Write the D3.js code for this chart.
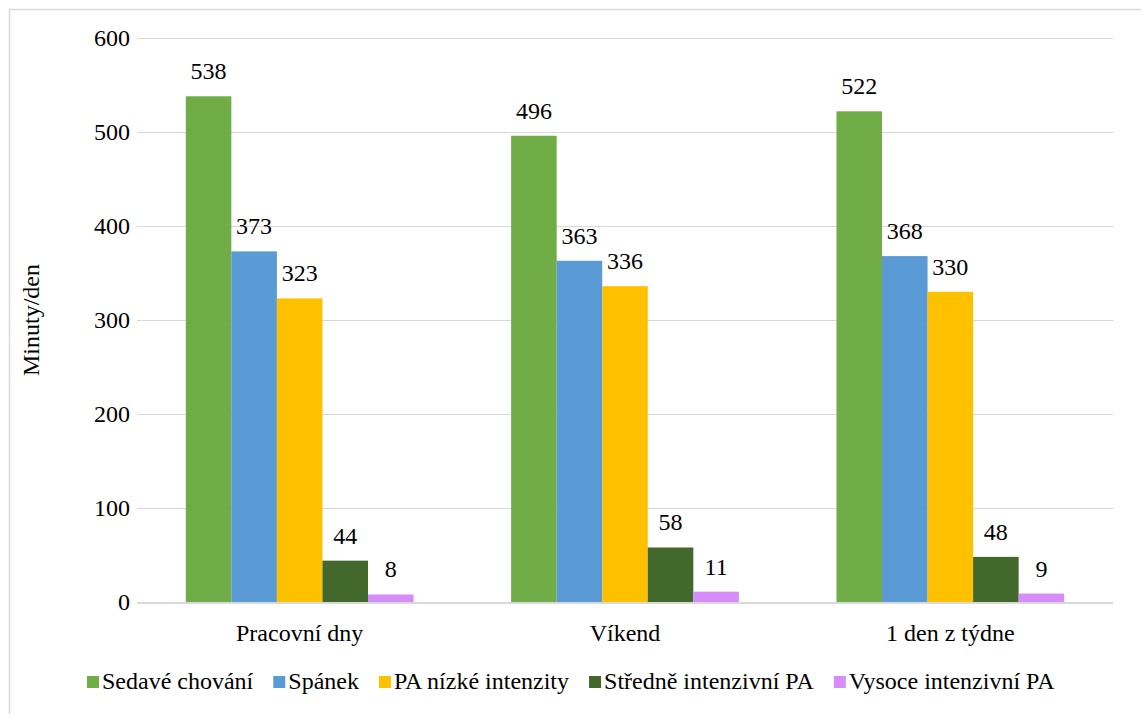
<!DOCTYPE html>
<html>
<head>
<meta charset="utf-8">
<script src="https://cdn.jsdelivr.net/npm/d3@7"></script>
<style>
  html, body { margin: 0; padding: 0; background: #fff; }
  #chart text { font-family: 'Liberation Serif', 'Times New Roman', Tinos, serif !important; }
</style>
</head>
<body>
<svg id="chart" width="1141" height="714"></svg>
<script>
// Average minutes per day by activity type
const categories = ["Pracovní dny", "Víkend", "1 den z týdne"];
const seriesNames = ["Sedavé chování", "Spánek", "PA nízké intenzity", "Středně intenzivní PA", "Vysoce intenzivní PA"];
const sedentary = [538, 496, 522];
const sleep = [373, 363, 368];
const lightPA = [323, 336, 330];
const moderatePA = [44, 58, 48];
const vigorousPA = [8, 11, 9];
const yTicks = [0, 100, 200, 300, 400, 500, 600];
const colors = ["#70AD47", "#5B9BD5", "#FFC000", "#43682B", "#D68CF9"];

const seriesValues = [sedentary, sleep, lightPA, moderatePA, vigorousPA];
const rows = categories.map((c, i) => ({
  category: c,
  values: seriesNames.map((s, j) => ({ series: s, value: seriesValues[j][i], idx: j }))
}));

const fontSize = 24;

function serif(sel) {
  sel.attr("font-family", "Times New Roman").attr("font-size", fontSize).attr("fill", "#000");
}

const svg = d3.select("#chart");

// outer frame
svg.append("rect")
  .attr("x", 9.5).attr("y", 9.5)
  .attr("width", 1200).attr("height", 800)
  .attr("fill", "none").attr("stroke", "#d9d9d9").attr("stroke-width", 1.5);

const plot = { left: 137, right: 1113, top: 38, bottom: 602 };

const y = d3.scaleLinear().domain([0, 600]).range([plot.bottom, plot.top]);
const x0 = d3.scaleBand().domain(categories).range([plot.left, plot.right])
  .paddingInner(0.3).paddingOuter(0.15);
const x1 = d3.scaleBand().domain(seriesNames).range([0, x0.bandwidth()]).padding(0);

// gridlines
svg.append("g").selectAll("line")
  .data(yTicks.filter(t => t > 0))
  .join("line")
  .attr("x1", plot.left).attr("x2", plot.right)
  .attr("y1", d => Math.round(y(d)) + 0.5).attr("y2", d => Math.round(y(d)) + 0.5)
  .attr("stroke", "#d9d9d9").attr("stroke-width", 1.2);

// y-axis tick labels
const yAxis = d3.axisLeft(y).tickValues(yTicks).tickSize(0).tickPadding(7);
const gy = svg.append("g").attr("transform", `translate(${plot.left},0)`).call(yAxis);
gy.select(".domain").remove();
gy.attr("font-family", null);
gy.selectAll("text").call(serif);

// bars
const groups = svg.append("g").selectAll("g")
  .data(rows).join("g")
  .attr("transform", d => `translate(${x0(d.category)},0)`);

groups.selectAll("rect")
  .data(d => d.values).join("rect")
  .attr("x", d => x1(d.series))
  .attr("y", d => y(d.value))
  .attr("width", x1.bandwidth())
  .attr("height", d => y(0) - y(d.value))
  .attr("fill", d => colors[d.idx]);

// value labels
groups.selectAll("text.val")
  .data(d => d.values).join("text")
  .attr("class", "val")
  .attr("x", d => x1(d.series) + x1.bandwidth() / 2)
  .attr("y", d => y(d.value) - 17)
  .attr("text-anchor", "middle")
  .call(serif)
  .text(d => d.value);

// baseline axis
svg.append("line")
  .attr("x1", plot.left).attr("x2", plot.right)
  .attr("y1", plot.bottom + 1).attr("y2", plot.bottom + 1)
  .attr("stroke", "#d9d9d9").attr("stroke-width", 2);

// category labels
const xAxis = d3.axisBottom(x0).tickSize(0).tickPadding(22);
const gx = svg.append("g").attr("transform", `translate(0,${plot.bottom})`).call(xAxis);
gx.select(".domain").remove();
gx.attr("font-family", null);
gx.selectAll("text").call(serif);

// y-axis title
svg.append("text")
  .attr("transform", `translate(31,${(plot.top + plot.bottom) / 2}) rotate(-90)`)
  .attr("text-anchor", "middle")
  .attr("dy", "0.35em")
  .call(serif)
  .text("Minuty/den");

// legend
const legend = svg.append("g");
const sw = 12, gapAfterSwatch = 3, itemGap = 20;
const items = legend.selectAll("g").data(seriesNames).join("g");
items.append("rect")
  .attr("width", sw).attr("height", sw)
  .attr("y", -13)
  .attr("fill", (d, i) => colors[i]);
items.append("text")
  .attr("x", sw + gapAfterSwatch)
  .call(serif)
  .text(d => d);
const widths = [];
items.each(function () {
  widths.push(sw + gapAfterSwatch + d3.select(this).select("text").node().getComputedTextLength());
});
let start = 87;
items.attr("transform", (d, i) => {
  const tx = start;
  start += widths[i] + itemGap;
  return `translate(${tx},689)`;
});
</script>
</body>
</html>
